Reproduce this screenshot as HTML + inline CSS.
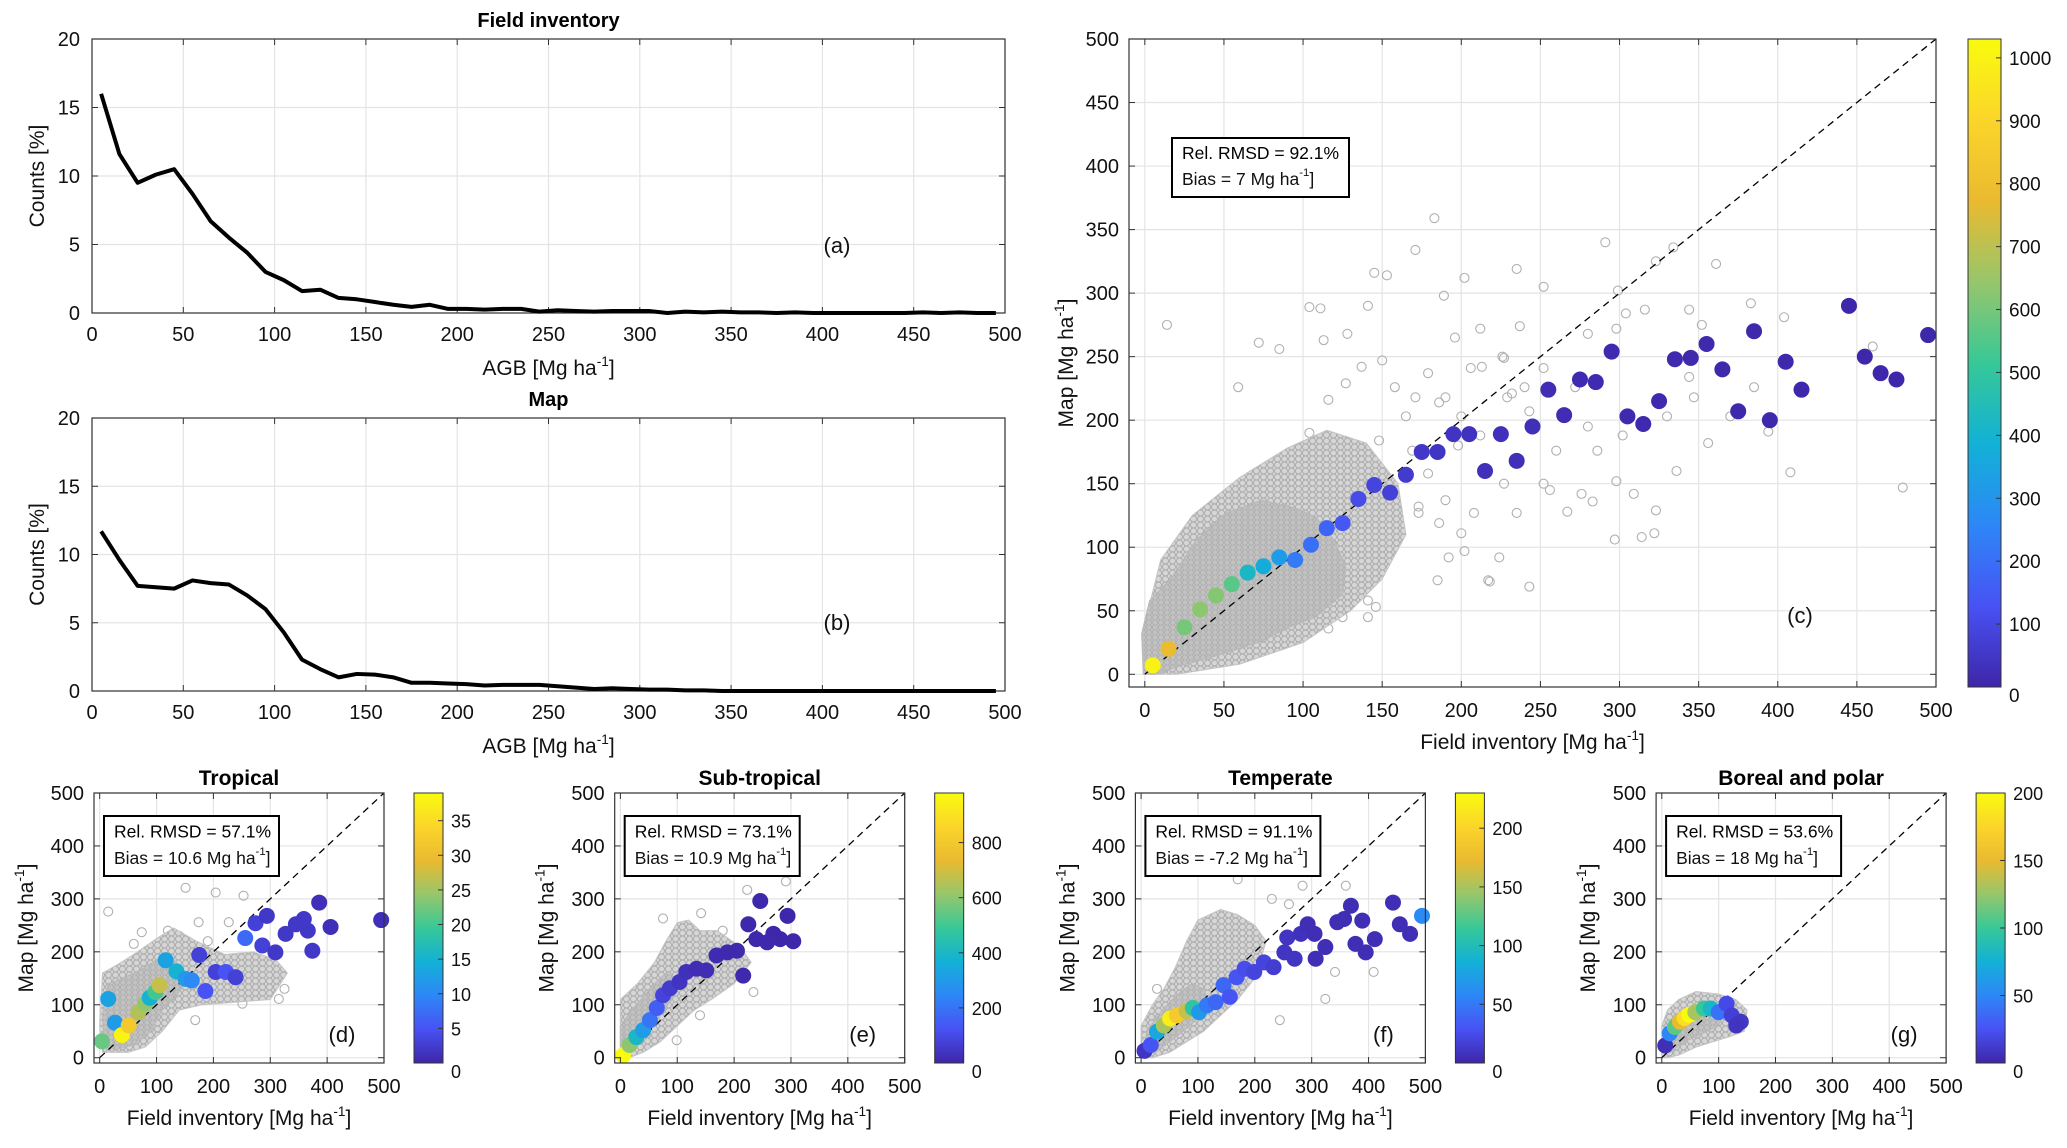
<!DOCTYPE html>
<html><head><meta charset="utf-8"><style>
html,body{margin:0;padding:0;background:#fff;}
svg{display:block;font-family:"Liberation Sans",Arial,sans-serif;}
</style></head><body>
<svg id="fig" width="2067" height="1148" viewBox="0 0 2067 1148" xmlns="http://www.w3.org/2000/svg">
<defs>
<linearGradient id="parula" x1="0" y1="1" x2="0" y2="0">
<stop offset="0" stop-color="#3e26a8"/><stop offset="0.125" stop-color="#4852f4"/><stop offset="0.25" stop-color="#2d87f7"/><stop offset="0.375" stop-color="#12b1d6"/><stop offset="0.5" stop-color="#37c897"/><stop offset="0.625" stop-color="#97c66b"/><stop offset="0.75" stop-color="#eaba30"/><stop offset="0.875" stop-color="#fbd52a"/><stop offset="1" stop-color="#f9fb0e"/>
</linearGradient>
<pattern id="cloud" width="7" height="6" patternUnits="userSpaceOnUse">
<rect width="7" height="6" fill="#d6d6d6"/>
<circle cx="3.5" cy="3" r="3" fill="none" stroke="#aaaaaa" stroke-width="0.9"/>
</pattern>
<pattern id="cloudsparse" width="11" height="10" patternUnits="userSpaceOnUse">
<rect width="11" height="10" fill="#f2f2f2"/>
<circle cx="5" cy="5" r="3.5" fill="none" stroke="#b4b4b4" stroke-width="1"/>
</pattern>
<pattern id="clouddense" width="6" height="5" patternUnits="userSpaceOnUse">
<rect width="6" height="5" fill="#c2c2c2"/>
<circle cx="3" cy="2.5" r="2.6" fill="none" stroke="#aeaeae" stroke-width="0.8"/>
</pattern>
</defs>
</svg>
<script>
// ---------- histogram data ----------
const histBins = [5,15,25,35,45,55,65,75,85,95,105,115,125,135,145,155,165,175,185,195,205,215,225,235,245,255,265,275,285,295,305,315,325,335,345,355,365,375,385,395,405,415,425,435,445,455,465,475,485,495];
const histField = [16,11.6,9.5,10.1,10.5,8.7,6.7,5.5,4.4,3.0,2.4,1.6,1.7,1.1,1.0,0.8,0.6,0.45,0.6,0.3,0.3,0.25,0.3,0.3,0.1,0.2,0.15,0.1,0.15,0.15,0.15,0.0,0.1,0.05,0.1,0.05,0.05,0.0,0.05,0.0,0.0,0.0,0.0,0.0,0.0,0.05,0.0,0.05,0.0,0.0];
const histMap = [11.7,9.6,7.7,7.6,7.5,8.1,7.9,7.8,7.0,6.0,4.3,2.3,1.6,1.0,1.25,1.2,1.0,0.6,0.6,0.55,0.5,0.4,0.45,0.45,0.45,0.35,0.25,0.15,0.2,0.15,0.1,0.1,0.05,0.05,0,0,0,0,0,0,0,0,0,0,0,0,0,0,0,0];
const histXTicks = [0,50,100,150,200,250,300,350,400,450,500];
const histYTicks = [0,5,10,15,20];

// ---------- panel (c) ----------
const cX = [5,15,25,35,45,55,65,75,85,95,105,115,125,135,145,155,165,175,185,195,205,215,225,235,245,255,265,275,285,295,305,315,325,335,345,355,365,375,385,395,405,415,445,455,465,475,495];
const cY = [7,20,37,51,62,71,80,85,92,90,102,115,119,138,149,143,157,175,175,189,189,160,189,168,195,224,204,232,230,254,203,197,215,248,249,260,240,207,270,200,246,224,290,250,237,232,267];
const cN = [1000,780,600,630,620,560,420,370,320,230,200,170,140,110,90,80,60,50,45,40,35,30,30,25,25,20,20,15,15,12,12,10,10,8,8,8,6,6,5,5,5,4,3,3,3,3,2];
const cGrayX = [183,171,291,14,202,235,145,153,361,323,334,104,111,141,189,252,299,72,85,113,128,212,237,304,316,344,352,383,404,460,298,280,196,59,356,336,408,479,323,309,297,314,322,243,218,224,267,283,298,256,202,192,185,146,141,116,276,344,385,347,330,370,394,302,286,260,280,272,252,227,206,240,186,165,229,243,212,198,227,252,235,208,186,173,104,116,127,137,150,158,171,179,190,200,213,226,232,148,169,179,190,200,173,150,137,125,141,217];
const cGrayY = [359,334,340,275,312,319,316,314,323,325,336,289,288,290,298,305,302,261,256,263,268,272,274,284,287,287,275,292,281,258,272,268,265,226,182,160,159,147,129,142,106,108,111,69,73,92,128,136,152,145,97,92,74,53,45,36,142,234,226,218,203,203,191,188,176,176,195,226,241,249,241,226,214,203,218,207,188,180,150,150,127,127,119,127,190,216,229,242,247,226,218,237,218,203,242,250,221,184,176,158,137,111,132,111,84,45,58,74];
const cOuterX = [0,0,10,30,60,90,115,140,160,165,150,130,100,60,20];
const cOuterY = [0,40,90,125,155,178,192,182,150,110,75,50,25,8,0];
const cCloudX = [-1,-2,3,17,32,51,74,95,108,120,127,125,108,91,74,49,21,7];
const cCloudY = [0,32,58,76,105,127,137,131,124,105,84,63,45,37,26,16,6,0];
const cCmax = 1030;
const cCTicks = [0,100,200,300,400,500,600,700,800,900,1000];

// ---------- panel (d) Tropical ----------
const dX = [4,15,27,39,51,68,80,88,98,105,116,135,151,162,186,175,204,222,239,256,274,294,286,309,327,345,359,366,374,386,406,495];
const dY = [31,111,66,43,61,86,102,113,124,137,184,163,149,146,126,194,162,162,152,226,254,268,212,199,234,252,262,240,202,293,247,260];
const dN = [22,13,12,38,32,26,24,15,20,27,13,15,12,10,5,3,3,5,3,7,3,2,3,2,2,2,2,2,2,1,1,1];
const dGrayX = [15,151,204,253,74,174,227,315,325,251,168,120,140,60,100,190];
const dGrayY = [276,321,312,306,237,256,256,111,130,102,71,240,230,215,200,220];
const dOuterX = [5,0,5,30,60,100,130,170,220,270,310,330,300,240,180,140,110,80,50];
const dOuterY = [10,60,160,175,195,225,245,220,195,200,185,160,110,105,100,90,50,20,10];
const dCloudX = [8,5,15,40,70,100,120,140,150,130,110,90,60,30];
const dCloudY = [20,80,140,150,165,185,195,175,140,110,90,50,25,15];
const dCmax = 39;
const dCTicks = [0,5,10,15,20,25,30,35];

// ---------- panel (e) Sub-tropical ----------
const eX = [5,16,28,40,52,64,75,87,104,116,134,151,169,188,205,216,225,246,239,258,269,281,294,304];
const eY = [5,24,39,52,71,94,118,131,143,162,168,165,193,199,202,155,252,296,224,218,234,224,268,220];
const eN = [980,600,400,300,200,150,80,60,40,30,20,20,15,12,10,8,6,5,5,5,4,4,3,3];
const eGrayX = [75,223,291,142,140,99,234,180,200];
const eGrayY = [263,317,333,273,80,33,124,240,160];
const eOuterX = [0,0,30,60,80,100,120,140,170,210,230,200,160,130,100,70,40,15];
const eOuterY = [0,110,140,180,220,255,260,240,240,210,180,140,110,90,60,30,10,0];
const eCloudX = [0,0,20,40,60,80,100,90,70,50,30,10];
const eCloudY = [0,60,90,115,140,160,150,110,80,50,25,5];
const eCmax = 980;
const eCTicks = [0,200,400,600,800];

// ---------- panel (f) Temperate ----------
const fX = [6,17,28,40,51,63,80,91,102,116,131,145,156,168,182,199,216,233,252,257,270,281,293,305,307,324,345,357,369,389,377,395,411,443,455,473,494];
const fY = [13,24,49,61,74,80,88,94,86,99,105,137,115,152,168,162,180,171,199,227,187,234,252,234,187,209,256,262,287,259,215,199,224,293,252,234,268];
const fN = [10,30,80,150,220,190,160,110,70,50,40,40,30,30,25,20,20,15,10,10,10,8,5,5,5,5,5,5,5,5,5,5,5,5,5,5,60];
const fGrayX = [170,284,360,341,409,244,324,28,230,260];
const fGrayY = [337,325,325,162,162,71,111,130,300,290];
const fOuterX = [0,0,20,40,60,80,100,140,170,200,220,200,170,140,110,80,50,20];
const fOuterY = [0,60,100,130,170,220,260,280,270,250,220,150,110,80,50,30,10,0];
const fCloudX = [5,10,30,50,70,90,110,120,100,80,50,25];
const fCloudY = [5,50,80,105,125,140,130,100,75,55,30,10];
const fCmax = 230;
const fCTicks = [0,50,100,150,200];

// ---------- panel (g) Boreal and polar ----------
const gX = [6,14,23,32,40,48,59,74,86,100,114,123,139,131];
const gY = [23,46,58,68,75,81,86,93,93,86,102,80,68,61];
const gN = [5,50,110,150,180,200,130,100,80,40,20,15,10,8];
const gGrayX = [];
const gGrayY = [];
const gOuterX = [0,0,10,30,60,100,130,150,145,120,90,60,30,10];
const gOuterY = [0,60,90,110,125,120,110,90,50,40,30,20,5,0];
const gCloudX = [5,10,30,60,90,110,100,70,40,15];
const gCloudY = [10,50,80,95,100,90,60,45,30,10];
const gCmax = 200;
const gCTicks = [0,50,100,150,200];

const NS = 'http://www.w3.org/2000/svg';
const svg = document.getElementById('fig');
function mk(tag, attrs, parent, text){
  const e = document.createElementNS(NS, tag);
  for (const k in attrs) e.setAttribute(k, attrs[k]);
  if (text !== undefined) e.textContent = text;
  (parent || svg).appendChild(e);
  return e;
}
const stops = [[0,[62,38,168]],[0.125,[72,82,244]],[0.25,[45,135,247]],[0.375,[18,177,214]],[0.5,[55,200,151]],[0.625,[151,198,107]],[0.75,[234,186,48]],[0.875,[251,213,42]],[1,[249,251,14]]];
function parula(t){
  t = Math.max(0, Math.min(1, t));
  for (let i=1;i<stops.length;i++){
    if (t <= stops[i][0]){
      const a=stops[i-1], b=stops[i], f=(t-a[0])/(b[0]-a[0]);
      return 'rgb('+[0,1,2].map(j=>Math.round(a[1][j]+f*(b[1][j]-a[1][j]))).join(',')+')';
    }
  }
  return 'rgb(249,251,14)';
}
function unitLabel(parent, x, y, prefix, anchor, size, rot){
  const t = mk('text', {x:x, y:y, 'font-size':size, 'text-anchor':anchor||'middle', fill:'#111'}, parent);
  if (rot) t.setAttribute('transform', 'rotate(-90 '+x+' '+y+')');
  mk('tspan', {}, t, prefix + '[Mg ha');
  mk('tspan', {dy:-9, 'font-size':size*0.65}, t, '-1');
  mk('tspan', {dy:9}, t, ']');
  return t;
}

function histogram(name, L, R, T, B, title, vals, letter, letterX, letterY){
  const g = mk('g', {});
  
  
  const sx = v => L + (v/500)*(R-L);
  const sy = v => B - (v/20)*(B-T);
  histXTicks.forEach(v=>{
    mk('line',{x1:sx(v),x2:sx(v),y1:T,y2:B,stroke:'#e4e4e4','stroke-width':1.2},g);
    mk('line',{x1:sx(v),x2:sx(v),y1:B,y2:B-6,stroke:'#333','stroke-width':1},g);
    mk('line',{x1:sx(v),x2:sx(v),y1:T,y2:T+6,stroke:'#333','stroke-width':1},g);
    const t = mk('text',{x:sx(v),y:B+28,'font-size':20,'text-anchor':'middle',fill:'#111'},g,String(v));
    
    
  });
  histYTicks.forEach(v=>{
    mk('line',{x1:L,x2:R,y1:sy(v),y2:sy(v),stroke:'#e4e4e4','stroke-width':1.2},g);
    mk('line',{x1:L,x2:L+6,y1:sy(v),y2:sy(v),stroke:'#333','stroke-width':1},g);
    mk('line',{x1:R,x2:R-6,y1:sy(v),y2:sy(v),stroke:'#333','stroke-width':1},g);
    const t = mk('text',{x:L-12,y:sy(v)+7,'font-size':20,'text-anchor':'end',fill:'#111'},g,String(v));
    
    
  });
  const box = mk('rect',{x:L,y:T,width:R-L,height:B-T,fill:'none',stroke:'#333','stroke-width':1.2},g);
  
  
  const pts = histBins.map((b,i)=>sx(b)+','+sy(vals[i])).join(' ');
  const pl = mk('polyline',{points:pts,fill:'none',stroke:'#000','stroke-width':4,'stroke-linejoin':'round'},g);
  
  
  const tt = mk('text',{x:(L+R)/2,y:T-12,'font-size':20,'font-weight':'bold','text-anchor':'middle',fill:'#000'},g,title);
  
  
  const yl = mk('text',{x:44,y:(T+B)/2,'font-size':21,'text-anchor':'middle',fill:'#111',transform:'rotate(-90 44 '+((T+B)/2)+')'},g,'Counts  [%]');
  
  
  const xl = unitLabel(g,(L+R)/2,B+62,'AGB   ','middle',21);
  
  
  const lt = mk('text',{x:letterX,y:letterY,'font-size':22,'text-anchor':'middle',fill:'#111'},g,letter);
  
  
}
histogram('histogram-field-inventory',92,1005,39,313,'Field inventory',histField,'(a)',837,253);
histogram('histogram-map',92,1005,418,691,'Map',histMap,'(b)',837,630);

function scatter(o){
  const g = mk('g', {});
  
  
  const {L,R,T,B} = o;
  const sx = v => L + ((v+10)/510)*(R-L);
  const sy = v => B - ((v+10)/510)*(B-T);
  o.ticks.forEach(v=>{
    mk('line',{x1:sx(v),x2:sx(v),y1:T,y2:B,stroke:'#e4e4e4','stroke-width':1.2},g);
    mk('line',{x1:L,x2:R,y1:sy(v),y2:sy(v),stroke:'#e4e4e4','stroke-width':1.2},g);
  });
  o.grayX.forEach((x,i)=>{
    const c = mk('circle',{cx:sx(x),cy:sy(o.grayY[i]),r:o.gr,fill:'none',stroke:'#b0b0b0','stroke-width':1.1},g);
    
    
  });
  const op = o.outerX.map((x,i)=>sx(x)+','+sy(o.outerY[i])).join(' ');
  const ol = mk('polygon',{points:op,fill:'url(#cloud)',stroke:'#c4c4c4','stroke-width':1},g);
  
  
  const cp = o.cloudX.map((x,i)=>sx(x)+','+sy(o.cloudY[i])).join(' ');
  const cl = mk('polygon',{points:cp,fill:'url(#clouddense)',stroke:'#b8b8b8','stroke-width':1},g);
  
  
  const dl = mk('line',{x1:sx(0),y1:sy(0),x2:sx(500),y2:sy(500),stroke:'#000','stroke-width':1.3,'stroke-dasharray':'7 5'},g);
  
  
  o.x.forEach((x,i)=>{
    const c = mk('circle',{cx:sx(x),cy:sy(o.y[i]),r:o.cr,fill:parula(o.n[i]/o.cmax),stroke:'none'},g);
    
    
  });
  o.ticks.forEach(v=>{
    mk('line',{x1:sx(v),x2:sx(v),y1:B,y2:B-6,stroke:'#333','stroke-width':1},g);
    mk('line',{x1:sx(v),x2:sx(v),y1:T,y2:T+6,stroke:'#333','stroke-width':1},g);
    mk('line',{x1:L,x2:L+6,y1:sy(v),y2:sy(v),stroke:'#333','stroke-width':1},g);
    mk('line',{x1:R,x2:R-6,y1:sy(v),y2:sy(v),stroke:'#333','stroke-width':1},g);
    const tx = mk('text',{x:sx(v),y:B+30,'font-size':20,'text-anchor':'middle',fill:'#111'},g,String(v));
    
    
    const ty = mk('text',{x:L-10,y:sy(v)+7,'font-size':20,'text-anchor':'end',fill:'#111'},g,String(v));
    
    
  });
  const box = mk('rect',{x:L,y:T,width:R-L,height:B-T,fill:'none',stroke:'#333','stroke-width':1.2},g);
  
  
  const sb = mk('rect',{x:o.sb[0],y:o.sb[1],width:o.sb[2],height:o.sb[3],fill:'#fff',stroke:'#000','stroke-width':2},g);
  
  
  const s1 = mk('text',{x:o.sb[0]+10,y:o.sb[1]+o.sb[3]*0.36,'font-size':17.5,fill:'#000'},g,'Rel. RMSD = '+o.rmsd);
  
  
  const s2 = unitLabel(g,o.sb[0]+10,o.sb[1]+o.sb[3]*0.8,'','start',17.5);
  s2.firstChild.textContent = 'Bias = '+o.bias+' Mg ha';
  
  
  const cb = mk('rect',{x:o.cb,y:T,width:o.cbw,height:B-T,fill:'url(#parula)',stroke:'#333','stroke-width':1},g);
  
  
  o.cticks.forEach(v=>{
    const yy = B - (v/o.cmax)*(B-T);
    mk('line',{x1:o.cb+o.cbw-5,x2:o.cb+o.cbw,y1:yy,y2:yy,stroke:'#333','stroke-width':1},g);
    const t = mk('text',{x:o.cb+o.cbw+8,y:yy+7+(v===0?8:0),'font-size':o.cfs,fill:'#111'},g,String(v));
    
    
  });
  if (o.title){
    const tt = mk('text',{x:(L+R)/2,y:T-8,'font-size':21,'font-weight':'bold','text-anchor':'middle',fill:'#000'},g,o.title);
    
    
  }
  const xl = unitLabel(g,(L+R)/2,B+62,'Field inventory  ','middle',21);
  
  
  const yl = unitLabel(g,o.ylx,(T+B)/2,'Map ','middle',21,true);
  
  
  const lt = mk('text',{x:o.lx,y:o.ly,'font-size':22,'text-anchor':'middle',fill:'#111'},g,o.letter);
  
  
}
scatter({name:'scatter-all',L:1129,R:1936,T:39,B:687,x:cX,y:cY,n:cN,grayX:cGrayX,grayY:cGrayY,outerX:cOuterX,outerY:cOuterY,cloudX:cCloudX,cloudY:cCloudY,cmax:cCmax,cticks:cCTicks,ticks:[0,50,100,150,200,250,300,350,400,450,500],gr:4.5,cr:8,sb:[1172,138,177,59],rmsd:'92.1%',bias:'7',cb:1968,cbw:33,cfs:19,ylx:1073,lx:1800,ly:623,letter:'(c)'});
const bottom = [
 {name:'scatter-tropical',title:'Tropical',x:dX,y:dY,n:dN,grayX:dGrayX,grayY:dGrayY,outerX:dOuterX,outerY:dOuterY,cloudX:dCloudX,cloudY:dCloudY,cmax:dCmax,cticks:dCTicks,rmsd:'57.1%',bias:'10.6',letter:'(d)'},
 {name:'scatter-subtropical',title:'Sub-tropical',x:eX,y:eY,n:eN,grayX:eGrayX,grayY:eGrayY,outerX:eOuterX,outerY:eOuterY,cloudX:eCloudX,cloudY:eCloudY,cmax:eCmax,cticks:eCTicks,rmsd:'73.1%',bias:'10.9',letter:'(e)'},
 {name:'scatter-temperate',title:'Temperate',x:fX,y:fY,n:fN,grayX:fGrayX,grayY:fGrayY,outerX:fOuterX,outerY:fOuterY,cloudX:fCloudX,cloudY:fCloudY,cmax:fCmax,cticks:fCTicks,rmsd:'91.1%',bias:'-7.2',letter:'(f)'},
 {name:'scatter-boreal-polar',title:'Boreal and polar',x:gX,y:gY,n:gN,grayX:gGrayX,grayY:gGrayY,outerX:gOuterX,outerY:gOuterY,cloudX:gCloudX,cloudY:gCloudY,cmax:gCmax,cticks:gCTicks,rmsd:'53.6%',bias:'18',letter:'(g)'}
];
bottom.forEach((p,i)=>{
  const L = 94 + i*520.7;
  Object.assign(p,{L:L,R:L+290,T:793,B:1063,ticks:[0,100,200,300,400,500],gr:4.5,cr:8,sb:[L+10,816,175,60],cb:L+320,cbw:29,cfs:18,ylx:L-61,lx:L+248,ly:1042});
  scatter(p);
});
</script>
</body></html>
